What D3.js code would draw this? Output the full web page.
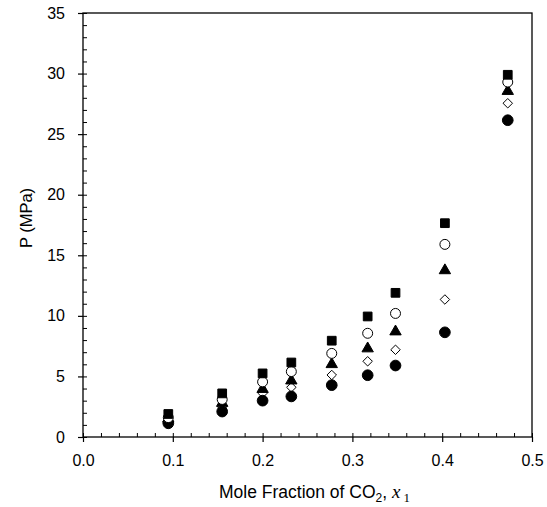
<!DOCTYPE html>
<html><head><meta charset="utf-8">
<script src="https://cdn.jsdelivr.net/npm/d3@7"></script>
<style>body{margin:0;background:#fff}svg{display:block}text{font-family:"Liberation Sans",Arial,sans-serif;fill:#000}</style>
</head><body>
<svg id="c" width="547" height="507"></svg>
<script>
const xVals = [0.095, 0.155, 0.200, 0.232, 0.277, 0.317, 0.348, 0.403, 0.473];
const sSquare   = [1.90, 3.60, 5.25, 6.15, 7.95, 9.95, 11.90, 17.65, 29.90];
const sOpenCirc = [1.60, 3.10, 4.55, 5.40, 6.90, 8.56, 10.20, 15.90, 29.30];
const sTriangle = [1.50, 2.80, 3.95, 4.65, 6.00, 7.30, 8.70, 13.75, 28.55];
const sDiamond  = [1.35, 2.50, 3.62, 4.10, 5.12, 6.25, 7.20, 11.35, 27.55];
const sFillCirc = [1.13, 2.10, 3.00, 3.35, 4.28, 5.10, 5.90, 8.64, 26.15];
const xTicks = [0, 0.1, 0.2, 0.3, 0.4, 0.5];
const yTicks = [0, 5, 10, 15, 20, 25, 30, 35];

const svg = d3.select("#c");
const L = 83, R = 532, T = 13, B = 437;
const x = d3.scaleLinear().domain([0, 0.5]).range([L, R]);
const y = d3.scaleLinear().domain([0, 35]).range([B, T]);
const FONT = '"Liberation Sans",Arial,sans-serif';
const SERIF = '"Liberation Serif","Times New Roman",serif';

svg.append("rect").attr("x", L).attr("y", T).attr("width", R - L).attr("height", B - T)
  .attr("fill", "none").attr("stroke", "#000").attr("stroke-width", 1.3);

const gx = svg.append("g").attr("transform", `translate(0,${B})`)
  .call(d3.axisBottom(x).tickValues(xTicks).tickFormat(d3.format(".1f")).tickSize(5).tickPadding(13));
gx.select(".domain").remove();
gx.selectAll("text").style("font-size", "16px").style("font-family", FONT);
gx.selectAll("line").attr("stroke-width", 1.2);
const gxm = svg.append("g").attr("transform", `translate(0,${B})`)
  .call(d3.axisTop(x).tickValues(d3.range(0, 0.5001, 0.02)).tickFormat("").tickSize(4));
gxm.select(".domain").remove();
gxm.selectAll("line").attr("stroke-width", 1);

const gy = svg.append("g").attr("transform", `translate(${L},0)`)
  .call(d3.axisLeft(y).tickValues(yTicks).tickSize(5).tickPadding(13));
gy.select(".domain").remove();
gy.selectAll("text").style("font-size", "16px").style("font-family", FONT);
gy.selectAll("line").attr("stroke-width", 1.2);
const gym = svg.append("g").attr("transform", `translate(${L},0)`)
  .call(d3.axisRight(y).tickValues(d3.range(0, 35.01, 1)).tickFormat("").tickSize(4));
gym.select(".domain").remove();
gym.selectAll("line").attr("stroke-width", 1);

svg.append("text").attr("transform", `translate(32,218) rotate(-90)`)
  .attr("text-anchor", "middle").style("font-size", "16.5px").text("P (MPa)");
const xt = svg.append("text").attr("x", 219).attr("y", 498).attr("text-anchor", "start").style("font-size", "17.5px");
xt.append("tspan").text("Mole Fraction of CO");
xt.append("tspan").attr("dy", 4).style("font-size", "12px").text("2");
xt.append("tspan").attr("dy", -4).text(", ");
xt.append("tspan").style("font-family", SERIF).style("font-style", "italic").style("font-size", "19px").text("x");
xt.append("tspan").attr("dy", 4).attr("dx", 3).style("font-size", "13px").style("font-family", SERIF).text("1");

const diamond = { draw(ctx, size) { const r = Math.sqrt(size) / 2; ctx.moveTo(0, -r); ctx.lineTo(r, 0); ctx.lineTo(0, r); ctx.lineTo(-r, 0); ctx.closePath(); } };

const series = [
  { v: sDiamond,  type: diamond,           size: 90, fill: "#fff" },
  { v: sFillCirc, type: d3.symbolCircle,   size: 90, fill: "#000" },
  { v: sTriangle, type: d3.symbolTriangle, size: 56, fill: "#000" },
  { v: sOpenCirc, type: d3.symbolCircle,   size: 78, fill: "#fff" },
  { v: sSquare,   type: d3.symbolSquare,   size: 76, fill: "#000" }
];
series.forEach(s => {
  svg.append("g").selectAll("path").data(xVals.map((xv, i) => [xv, s.v[i]])).join("path")
    .attr("transform", d => `translate(${x(d[0])},${y(d[1])})`)
    .attr("d", d3.symbol().type(s.type).size(s.size))
    .attr("fill", s.fill).attr("stroke", "#000").attr("stroke-width", 1);
});
</script>
</body></html>
